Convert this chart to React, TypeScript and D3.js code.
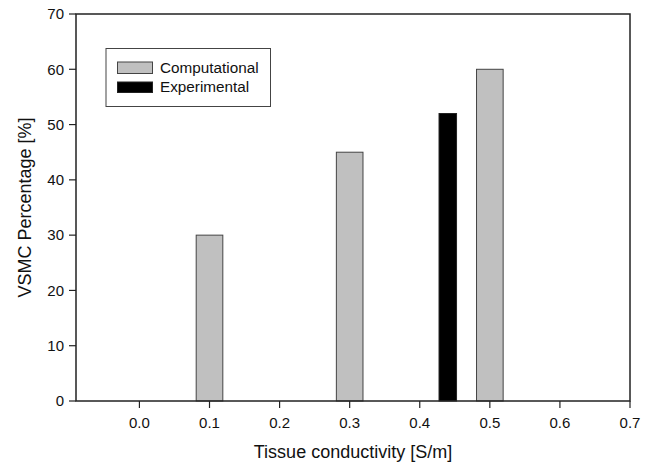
import React from "react";
import * as d3 from "d3";

const compX = [0.1, 0.3, 0.5];
const compY = [30, 45, 60];
const expX = [0.44];
const expY = [52];
const xTicks = [0.0, 0.1, 0.2, 0.3, 0.4, 0.5, 0.6, 0.7];
const yTicks = [0, 10, 20, 30, 40, 50, 60, 70];

const W = 653, H = 466;
const L = 76, R = 630, T = 14, B = 401;
const FONT = "'Liberation Sans', Arial, sans-serif";

export default function App() {
  const x = d3.scaleLinear().domain([-0.0905, 0.7]).range([L, R]);
  const y = d3.scaleLinear().domain([0, 70]).range([B, T]);
  const compW = 0.038;
  const expW = 0.025;
  return (
    <svg width={W} height={H} style={{ position: "absolute", left: 0, top: 0 }} fontFamily={FONT}>
      <rect x={0} y={0} width={W} height={H} fill="#fff" />
      {compX.map((v, i) => (
        <rect key={"c" + i} x={x(v - compW / 2)} y={y(compY[i])} width={x(v + compW / 2) - x(v - compW / 2)} height={y(0) - y(compY[i])} fill="#c0c0c0" stroke="#444" strokeWidth={1} />
      ))}
      {expX.map((v, i) => (
        <rect key={"e" + i} x={x(v - expW / 2)} y={y(expY[i])} width={x(v + expW / 2) - x(v - expW / 2)} height={y(0) - y(expY[i])} fill="#000" stroke="#222" strokeWidth={1} />
      ))}
      <rect x={L} y={T} width={R - L} height={B - T} fill="none" stroke="#222" strokeWidth={1.5} />
      {yTicks.map((t) => (
        <g key={"y" + t}>
          <line x1={L - 7} x2={L} y1={y(t)} y2={y(t)} stroke="#222" strokeWidth={1.2} />
          <text x={L - 12} y={y(t)} dy="0.35em" textAnchor="end" fontSize={15} fill="#111">{t}</text>
        </g>
      ))}
      {xTicks.map((t) => (
        <g key={"x" + t}>
          <line x1={x(t)} x2={x(t)} y1={B} y2={B + 7} stroke="#222" strokeWidth={1.2} />
          <text x={x(t)} y={428} textAnchor="middle" fontSize={15} fill="#111">{t.toFixed(1)}</text>
        </g>
      ))}
      <text x={(L + R) / 2} y={458} textAnchor="middle" fontSize={18} fill="#111">Tissue conductivity [S/m]</text>
      <text transform={`translate(31,${(T + B) / 2}) rotate(-90)`} textAnchor="middle" fontSize={18} fill="#111">VSMC Percentage [%]</text>
      <rect x={106} y={48.5} width={164.5} height={58} fill="#fff" stroke="#444" strokeWidth={1} />
      <rect x={117.5} y={62} width={35} height={11.5} fill="#c0c0c0" stroke="#444" strokeWidth={1} />
      <rect x={117.5} y={82} width={35} height={10.5} fill="#000" stroke="#222" strokeWidth={1} />
      <text x={160} y={73} fontSize={15.3} fill="#111">Computational</text>
      <text x={160} y={92} fontSize={15.3} fill="#111">Experimental</text>
    </svg>
  );
}
